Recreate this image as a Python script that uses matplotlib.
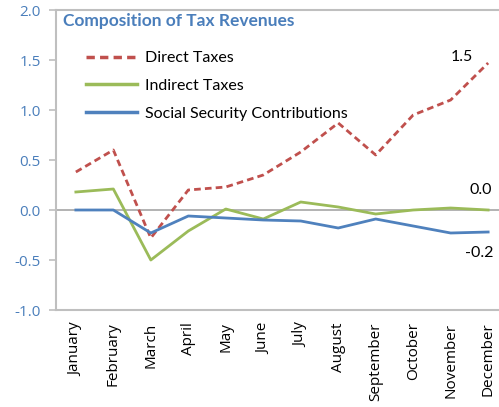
import matplotlib.pyplot as plt

months = ['January', 'February', 'March', 'April', 'May', 'June', 'July',
          'August', 'September', 'October', 'November', 'December']
direct = [0.38, 0.60, -0.28, 0.20, 0.23, 0.35, 0.58, 0.87, 0.55, 0.95, 1.10, 1.47]
indirect = [0.18, 0.21, -0.50, -0.21, 0.01, -0.09, 0.08, 0.03, -0.04, 0.00, 0.02, 0.00]
social = [0.00, 0.00, -0.23, -0.06, -0.08, -0.10, -0.11, -0.18, -0.09, -0.16, -0.23, -0.22]
yticks = [-1.0, -0.5, 0.0, 0.5, 1.0, 1.5, 2.0]

red, green, blue = '#c0504d', '#9bbb59', '#4f81bd'
frame = '#bfbfbf'

fig = plt.figure(figsize=(4.99, 4.07), dpi=100)
ax = fig.add_axes([56 / 499, 97 / 407, 452 / 499, 300 / 407])

x = list(range(len(months)))
ax.axhline(0, color='#a6a6a6', lw=1.2, zorder=1)
ax.plot(x, direct, color=red, lw=2.0, ls=(0, (2.4, 1.5)), label='Direct Taxes')
ax.plot(x, indirect, color=green, lw=2.0, label='Indirect Taxes')
ax.plot(x, social, color=blue, lw=2.0, label='Social Security Contributions')

ax.set_xlim(-0.53, 11.53)
ax.set_ylim(-1.0, 2.0)
ax.set_yticks(yticks)
ax.set_yticklabels([f'{v:.1f}' for v in yticks], color='#4a7ebb',
                   fontsize=11, family='Open Sans')
ax.set_xticks(x)
ax.set_xticklabels(months, rotation=90, fontsize=11, family='Open Sans')
ax.tick_params(axis='y', length=5, color=frame, width=1.2, pad=6)
ax.tick_params(axis='x', length=0, pad=9)
for side in ['left', 'top', 'bottom', 'right']:
    ax.spines[side].set_color(frame)
    ax.spines[side].set_linewidth(1.5)

# end-of-series value labels
ax.text(10.3, direct[-1] + 0.06, f'{direct[-1]:.1f}', ha='center', va='center',
        fontsize=11.5, family='Lato')
ax.text(10.8, indirect[-1] + 0.2, f'{indirect[-1]:.1f}', ha='center', va='center',
        fontsize=11.5, family='Lato')
ax.text(10.77, social[-1] - 0.21, f'{social[-1]:.1f}', ha='center', va='center',
        fontsize=11.5, family='Lato')

# legend title drawn separately so the entries can sit indented below it
ax.text(7 / 452, 289 / 300, 'Composition of Tax Revenues', transform=ax.transAxes,
        ha='left', va='center', family='Lato', weight='bold', size=12.5,
        color='#4a7ebb')
leg = ax.legend(loc='upper left', frameon=False,
                prop={'family': 'Lato', 'size': 11.5},
                handlelength=3.2, handletextpad=0.5, labelspacing=0.85,
                borderaxespad=0, borderpad=0,
                bbox_to_anchor=(30 / 452, 259 / 300))
for h in leg.legend_handles:
    h.set_linewidth(2.5)

fig.savefig('out.png', dpi=100)
